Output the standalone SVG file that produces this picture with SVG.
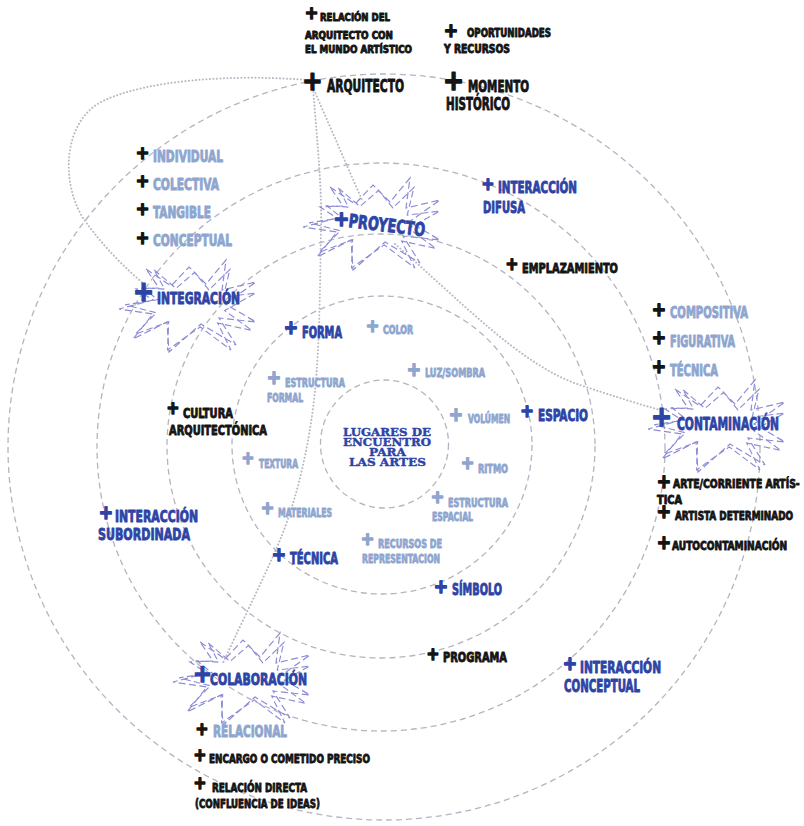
<svg xmlns="http://www.w3.org/2000/svg" width="804" height="826" viewBox="0 0 804 826">
<defs>
<style>
text{font-family:'DejaVu Sans Condensed','DejaVu Sans',sans-serif;font-weight:bold;stroke-width:.85;stroke-linejoin:round}
.k{fill:#141414;stroke:#141414}
.b{fill:#2d44a6;stroke:#2d44a6}
.l{fill:#8ea6cf;stroke:#8ea6cf}
.p{stroke-width:1.4}
.ring{fill:none;stroke:#b4b4c2;stroke-width:1.3;stroke-dasharray:6 4}
.dot{fill:none;stroke:#b9b9c6;stroke-width:2;stroke-dasharray:0.1 3.4;stroke-linecap:round}
.star{fill:none;stroke:#8c8cd6;stroke-width:1.2;stroke-dasharray:7 3.5}
.c{font-family:'DejaVu Serif',serif;font-weight:bold;fill:#2d44a6;stroke:#2d44a6;stroke-width:.4}
</style>
<path id="star" d="M-43 -35L-18 -18L0 -37L17 -20L37 -44L33 -14L67 -22L36 0L67 18L30 14L47 41L12 20L-20 48L-22 18L-56 35L-36 10L-70 5L-36 -4L-53 -15L-30 -16Z"/>
</defs>
<rect width="804" height="826" fill="#fff"/>
<g id="rings">
<ellipse class="ring" cx="384.5" cy="444" rx="64" ry="64"/>
<ellipse class="ring" cx="382" cy="445" rx="150" ry="149"/>
<ellipse class="ring" cx="381" cy="446" rx="214" ry="212"/>
<ellipse class="ring" cx="381" cy="447" rx="284" ry="284"/>
<ellipse class="ring" cx="384" cy="447" rx="376" ry="373"/>
</g>
<g id="connectors">
<path class="dot" d="M308 80C230 74 150 80 105 100C60 120 60 190 88 225C105 248 125 268 145 285"/>
<path class="dot" d="M313 88C318 150 322 190 321 230C320 280 320 330 316 380C312 430 300 490 282 535C268 570 245 615 222 665"/>
<path class="dot" d="M314 90L362 200"/>
<path class="dot" d="M395 244C460 300 520 365 580 385C610 395 635 403 660 410"/>
</g>
<g id="stars" class="star">
<use href="#star" transform="translate(373 222)"/>
<use href="#star" transform="translate(375 225) rotate(6) scale(0.94)"/>
<use href="#star" transform="translate(189 304)"/>
<use href="#star" transform="translate(191 307) rotate(6) scale(0.94)"/>
<use href="#star" transform="translate(718 424)"/>
<use href="#star" transform="translate(720 427) rotate(6) scale(0.94)"/>
<use href="#star" transform="translate(243 677)"/>
<use href="#star" transform="translate(245 680) rotate(6) scale(0.94)"/>
</g>
<g id="relacion-arquitecto">
<text class="k p" x="311.5" y="19" font-size="18" text-anchor="middle">+</text>
<text class="k" x="320" y="20.5" font-size="10.5" textLength="70" lengthAdjust="spacingAndGlyphs">RELACIÓN DEL</text>
<text class="k" x="305" y="38.5" font-size="10.5" textLength="88" lengthAdjust="spacingAndGlyphs">ARQUITECTO CON</text>
<text class="k" x="305" y="53" font-size="10.5" textLength="107" lengthAdjust="spacingAndGlyphs">EL MUNDO ARTÍSTICO</text>
</g>
<g id="oportunidades">
<text class="k p" x="451" y="36.5" font-size="19" text-anchor="middle">+</text>
<text class="k" x="467" y="37" font-size="11.5" textLength="84" lengthAdjust="spacingAndGlyphs">OPORTUNIDADES</text>
<text class="k" x="444" y="53" font-size="11.5" textLength="66" lengthAdjust="spacingAndGlyphs">Y RECURSOS</text>
</g>
<g id="arquitecto">
<text class="k p" x="312.5" y="89.5" font-size="27" text-anchor="middle">+</text>
<text class="k" x="327" y="92" font-size="18" textLength="77" lengthAdjust="spacingAndGlyphs">ARQUITECTO</text>
</g>
<g id="momento-historico">
<text class="k p" x="453.5" y="90" font-size="28" text-anchor="middle">+</text>
<text class="k" x="468" y="92" font-size="16.5" textLength="61" lengthAdjust="spacingAndGlyphs">MOMENTO</text>
<text class="k" x="446" y="110" font-size="17" textLength="64" lengthAdjust="spacingAndGlyphs">HISTÓRICO</text>
</g>
<g id="individual">
<text class="k p" x="142.5" y="158.5" font-size="18" text-anchor="middle">+</text>
<text class="l" x="153" y="161.5" font-size="15" textLength="70" lengthAdjust="spacingAndGlyphs">INDIVIDUAL</text>
</g>
<g id="colectiva">
<text class="k p" x="142.5" y="187" font-size="18" text-anchor="middle">+</text>
<text class="l" x="153" y="189.5" font-size="15" textLength="66" lengthAdjust="spacingAndGlyphs">COLECTIVA</text>
</g>
<g id="tangible">
<text class="k p" x="142.5" y="215" font-size="18" text-anchor="middle">+</text>
<text class="l" x="153" y="217.5" font-size="15" textLength="58" lengthAdjust="spacingAndGlyphs">TANGIBLE</text>
</g>
<g id="conceptual">
<text class="k p" x="142.5" y="243.5" font-size="18" text-anchor="middle">+</text>
<text class="l" x="153" y="246" font-size="15" textLength="79" lengthAdjust="spacingAndGlyphs">CONCEPTUAL</text>
</g>
<g id="integracion">
<text class="b p" x="143.5" y="301" font-size="28" text-anchor="middle">+</text>
<text class="b" x="157" y="304" font-size="16" textLength="83" lengthAdjust="spacingAndGlyphs">INTEGRACIÓN</text>
</g>
<g id="proyecto">
<text class="b p" x="341.5" y="226" font-size="21" text-anchor="middle">+</text>
<text class="b" x="348" y="227" font-size="18.5" textLength="77" lengthAdjust="spacingAndGlyphs" transform="rotate(7 348 227)">PROYECTO</text>
</g>
<g id="interaccion-difusa">
<text class="b p" x="488" y="189.5" font-size="17" text-anchor="middle">+</text>
<text class="b" x="498" y="193" font-size="16" textLength="79" lengthAdjust="spacingAndGlyphs">INTERACCIÓN</text>
<text class="b" x="483" y="213" font-size="16.5" textLength="42" lengthAdjust="spacingAndGlyphs">DIFUSA</text>
</g>
<g id="emplazamiento">
<text class="k p" x="512" y="269.5" font-size="17" text-anchor="middle">+</text>
<text class="k" x="522" y="272.5" font-size="14" textLength="96" lengthAdjust="spacingAndGlyphs">EMPLAZAMIENTO</text>
</g>
<g id="compositiva">
<text class="k p" x="659" y="315.5" font-size="19" text-anchor="middle">+</text>
<text class="l" x="670" y="318" font-size="15" textLength="78" lengthAdjust="spacingAndGlyphs">COMPOSITIVA</text>
</g>
<g id="figurativa">
<text class="k p" x="659" y="344" font-size="19" text-anchor="middle">+</text>
<text class="l" x="670" y="347" font-size="15" textLength="65" lengthAdjust="spacingAndGlyphs">FIGURATIVA</text>
</g>
<g id="tecnica-artistica">
<text class="k p" x="659" y="372.5" font-size="19" text-anchor="middle">+</text>
<text class="l" x="670" y="375.5" font-size="15" textLength="48" lengthAdjust="spacingAndGlyphs">TÉCNICA</text>
</g>
<g id="contaminacion">
<text class="b p" x="661.5" y="426" font-size="28" text-anchor="middle">+</text>
<text class="b" transform="translate(677 430) scale(0.68 1)" font-size="18" textLength="150" lengthAdjust="spacingAndGlyphs">CONTAMINACIÓN</text>
</g>
<g id="arte-corriente">
<text class="k p" x="664" y="487.5" font-size="19" text-anchor="middle">+</text>
<text class="k" transform="translate(673 488) scale(0.72 1)" font-size="12.5" textLength="176" lengthAdjust="spacingAndGlyphs">ARTE/CORRIENTE ARTÍS-</text>
<text class="k" x="657" y="503.5" font-size="12" textLength="25" lengthAdjust="spacingAndGlyphs">TICA</text>
</g>
<g id="artista-determinado">
<text class="k p" x="664" y="517.5" font-size="19" text-anchor="middle">+</text>
<text class="k" transform="translate(675 519.5) scale(0.72 1)" font-size="12.5" textLength="164" lengthAdjust="spacingAndGlyphs">ARTISTA DETERMINADO</text>
</g>
<g id="autocontaminacion">
<text class="k p" x="664" y="548.5" font-size="19" text-anchor="middle">+</text>
<text class="k" transform="translate(672 549.5) scale(0.72 1)" font-size="12.5" textLength="160" lengthAdjust="spacingAndGlyphs">AUTOCONTAMINACIÓN</text>
</g>
<g id="forma">
<text class="b p" x="291" y="334" font-size="19" text-anchor="middle">+</text>
<text class="b" x="302" y="337.5" font-size="15" textLength="40" lengthAdjust="spacingAndGlyphs">FORMA</text>
</g>
<g id="color">
<text class="l p" x="372.5" y="332" font-size="18" text-anchor="middle">+</text>
<text class="l" x="383" y="334" font-size="12" textLength="30" lengthAdjust="spacingAndGlyphs">COLOR</text>
</g>
<g id="luz-sombra">
<text class="l p" x="414" y="375.5" font-size="19" text-anchor="middle">+</text>
<text class="l" x="425" y="377" font-size="13" textLength="60" lengthAdjust="spacingAndGlyphs">LUZ/SOMBRA</text>
</g>
<g id="estructura-formal">
<text class="l p" x="274" y="384" font-size="19" text-anchor="middle">+</text>
<text class="l" x="285" y="387" font-size="13" textLength="60" lengthAdjust="spacingAndGlyphs">ESTRUCTURA</text>
<text class="l" x="267" y="401.5" font-size="12.5" textLength="36" lengthAdjust="spacingAndGlyphs">FORMAL</text>
</g>
<g id="volumen">
<text class="l p" x="456" y="420.5" font-size="19" text-anchor="middle">+</text>
<text class="l" x="468" y="423" font-size="13" textLength="42" lengthAdjust="spacingAndGlyphs">VOLÚMEN</text>
</g>
<g id="espacio">
<text class="b p" x="527" y="417" font-size="18" text-anchor="middle">+</text>
<text class="b" x="538" y="421" font-size="16" textLength="50" lengthAdjust="spacingAndGlyphs">ESPACIO</text>
</g>
<g id="cultura-arquitectonica">
<text class="k p" x="173" y="414" font-size="17" text-anchor="middle">+</text>
<text class="k" x="183" y="418" font-size="14" textLength="50" lengthAdjust="spacingAndGlyphs">CULTURA</text>
<text class="k" x="169" y="435" font-size="14.5" textLength="98" lengthAdjust="spacingAndGlyphs">ARQUITECTÓNICA</text>
</g>
<g id="lugares-de-encuentro">
<text class="c" x="387" y="436" font-size="10.5" text-anchor="middle" textLength="88" lengthAdjust="spacingAndGlyphs">LUGARES DE</text>
<text class="c" x="387" y="446" font-size="10.5" text-anchor="middle" textLength="88" lengthAdjust="spacingAndGlyphs">ENCUENTRO</text>
<text class="c" x="387.5" y="456" font-size="10.5" text-anchor="middle" textLength="37" lengthAdjust="spacingAndGlyphs">PARA</text>
<text class="c" x="387.5" y="466" font-size="10.5" text-anchor="middle" textLength="77" lengthAdjust="spacingAndGlyphs">LAS ARTES</text>
</g>
<g id="textura">
<text class="l p" x="248" y="463.5" font-size="17" text-anchor="middle">+</text>
<text class="l" x="259" y="468" font-size="13" textLength="39" lengthAdjust="spacingAndGlyphs">TEXTURA</text>
</g>
<g id="ritmo">
<text class="l p" x="467.5" y="469" font-size="18" text-anchor="middle">+</text>
<text class="l" x="478" y="473" font-size="12.5" textLength="30" lengthAdjust="spacingAndGlyphs">RITMO</text>
</g>
<g id="materiales">
<text class="l p" x="267.5" y="513.5" font-size="18" text-anchor="middle">+</text>
<text class="l" x="278" y="517" font-size="13" textLength="54" lengthAdjust="spacingAndGlyphs">MATERIALES</text>
</g>
<g id="estructura-espacial">
<text class="l p" x="437.5" y="503" font-size="18" text-anchor="middle">+</text>
<text class="l" x="448" y="507" font-size="13" textLength="60" lengthAdjust="spacingAndGlyphs">ESTRUCTURA</text>
<text class="l" x="432" y="521" font-size="12.5" textLength="41" lengthAdjust="spacingAndGlyphs">ESPACIAL</text>
</g>
<g id="recursos">
<text class="l p" x="367.5" y="544.5" font-size="18" text-anchor="middle">+</text>
<text class="l" x="378" y="548" font-size="13" textLength="64" lengthAdjust="spacingAndGlyphs">RECURSOS DE</text>
<text class="l" x="362" y="563" font-size="12.5" textLength="78" lengthAdjust="spacingAndGlyphs">REPRESENTACION</text>
</g>
<g id="tecnica">
<text class="b p" x="279" y="560.5" font-size="19" text-anchor="middle">+</text>
<text class="b" x="290" y="564" font-size="16" textLength="48" lengthAdjust="spacingAndGlyphs">TÉCNICA</text>
</g>
<g id="simbolo">
<text class="b p" x="441" y="592.5" font-size="19" text-anchor="middle">+</text>
<text class="b" x="452" y="595" font-size="16" textLength="50" lengthAdjust="spacingAndGlyphs">SÍMBOLO</text>
</g>
<g id="interaccion-subordinada">
<text class="b p" x="106" y="518.5" font-size="19" text-anchor="middle">+</text>
<text class="b" x="115" y="521.5" font-size="16" textLength="83" lengthAdjust="spacingAndGlyphs">INTERACCIÓN</text>
<text class="b" x="98" y="540" font-size="16.5" textLength="92" lengthAdjust="spacingAndGlyphs">SUBORDINADA</text>
</g>
<g id="colaboracion">
<text class="b p" x="202.5" y="682" font-size="25" text-anchor="middle">+</text>
<text class="b" x="210" y="685" font-size="16.5" textLength="97" lengthAdjust="spacingAndGlyphs">COLABORACIÓN</text>
</g>
<g id="relacional">
<text class="k p" x="202" y="734.5" font-size="17" text-anchor="middle">+</text>
<text class="l" x="213" y="737" font-size="16" textLength="74" lengthAdjust="spacingAndGlyphs">RÉLACIONAL</text>
</g>
<g id="encargo">
<text class="k p" x="200" y="760.5" font-size="17" text-anchor="middle">+</text>
<text class="k" x="209" y="763" font-size="12.5" textLength="161" lengthAdjust="spacingAndGlyphs">ENCARGO O COMETIDO PRECISO</text>
</g>
<g id="relacion-directa">
<text class="k p" x="200" y="789" font-size="17" text-anchor="middle">+</text>
<text class="k" x="212" y="792" font-size="12.5" textLength="95" lengthAdjust="spacingAndGlyphs">RELACIÓN DIRECTA</text>
<text class="k" x="195" y="808" font-size="12.5" textLength="125" lengthAdjust="spacingAndGlyphs">(CONFLUENCIA DE IDEAS)</text>
</g>
<g id="programa">
<text class="k p" x="433" y="659.5" font-size="17" text-anchor="middle">+</text>
<text class="k" x="443" y="662" font-size="13.5" textLength="64" lengthAdjust="spacingAndGlyphs">PROGRAMA</text>
</g>
<g id="interaccion-conceptual">
<text class="b p" x="570" y="669.5" font-size="19" text-anchor="middle">+</text>
<text class="b" x="580" y="673" font-size="16.5" textLength="81" lengthAdjust="spacingAndGlyphs">INTERACCIÓN</text>
<text class="b" x="564" y="692" font-size="17" textLength="76" lengthAdjust="spacingAndGlyphs">CONCEPTUAL</text>
</g>
</svg>
